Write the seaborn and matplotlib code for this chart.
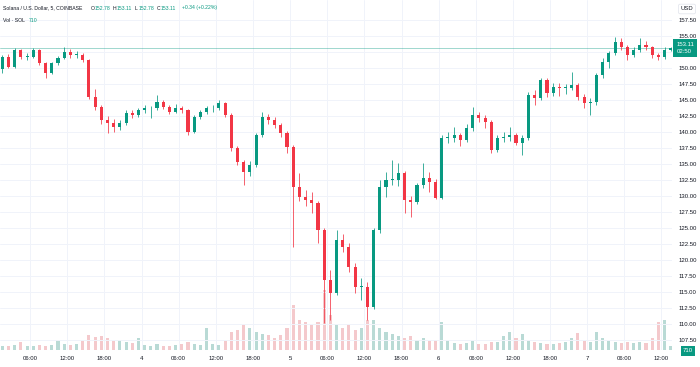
import numpy as np
import pandas as pd
import matplotlib
matplotlib.use("Agg")
import matplotlib.pyplot as plt
import matplotlib.transforms as mtransforms
import seaborn as sns

# ---------------- data (hourly candles, hours since day 3 00:00) ----------------
hours = list(range(1, 110))
closes = [151.8, 150.2, 152.8, 151.8, 151.8, 152.8, 150.8, 149.2, 150.8, 151.6,
          152.5, 152.0, 152.0, 151.2, 145.5, 143.9, 141.9, 141.4, 140.8, 141.4,
          143.0, 142.7, 143.4, 143.7, 143.7, 144.7, 143.9, 143.1, 143.7, 143.4,
          140.0, 142.3, 143.1, 143.7, 143.7, 144.5, 142.7, 137.5, 135.3, 133.8,
          134.8, 139.5, 142.3, 141.9, 141.1, 139.8, 137.7, 131.4, 129.8, 129.4,
          128.9, 124.7, 116.9, 114.8, 123.1, 122.0, 118.9, 115.8, 115.8, 112.7,
          124.7, 131.4, 132.5, 132.5, 133.6, 129.4, 129.1, 131.7, 132.8, 132.2,
          129.7, 139.1, 139.1, 139.5, 138.75, 140.6, 142.7, 142.2, 141.6, 137.2,
          139.1, 139.2, 139.5, 138.3, 139.1, 145.8, 145.3, 148.1, 146.1, 147.0,
          146.9, 146.9, 147.3, 145.5, 144.5, 144.7, 148.9, 151.0, 152.3, 154.1,
          153.3, 152.0, 152.8, 153.6, 153.3, 152.0, 151.7, 152.8, 153.11]
first_open = 149.8
highs = [152.0, 152.2, 153.2, 153.0, 152.4, 153.2, 153.0, 151.0, 151.0, 151.9,
         153.3, 152.9, 152.6, 152.4, 151.4, 146.8, 144.3, 142.5, 142.0, 141.9,
         143.4, 143.4, 143.8, 144.2, 144.1, 145.8, 145.0, 144.2, 144.4, 144.0,
         143.6, 142.6, 143.4, 144.1, 144.3, 145.0, 144.7, 142.9, 137.8, 135.6,
         135.5, 139.9, 143.1, 142.8, 142.3, 141.4, 140.1, 137.9, 133.6, 131.0,
         130.6, 129.2, 125.0, 118.5, 124.7, 124.0, 122.6, 119.5, 117.2, 116.5,
         125.0, 132.5, 133.8, 135.6, 135.2, 133.9, 130.0, 132.0, 135.2, 133.8,
         132.6, 139.5, 140.0, 140.8, 139.9, 141.2, 143.9, 143.2, 142.6, 141.9,
         139.5, 140.0, 140.8, 139.8, 139.5, 146.2, 146.6, 148.5, 148.4, 147.7,
         147.6, 147.5, 149.4, 147.6, 145.9, 145.3, 149.2, 151.5, 152.7, 154.8,
         154.7, 153.6, 153.3, 154.7, 154.2, 153.5, 152.4, 153.3, 153.3]
lows = [149.3, 150.0, 150.0, 151.4, 151.3, 151.6, 150.5, 148.4, 149.0, 150.5,
        151.4, 151.6, 151.5, 150.9, 145.2, 143.4, 141.2, 139.8, 140.0, 140.3,
        141.1, 142.2, 142.4, 143.0, 142.2, 143.5, 143.6, 142.8, 142.9, 143.0,
        139.5, 139.8, 142.0, 142.8, 143.2, 143.5, 142.4, 137.0, 134.8, 131.7,
        133.2, 134.5, 139.2, 141.3, 140.7, 139.3, 136.8, 122.0, 129.2, 128.5,
        127.3, 122.7, 110.2, 110.6, 114.5, 121.2, 118.2, 114.8, 113.8, 110.6,
        112.3, 124.2, 129.8, 131.8, 131.6, 127.3, 126.7, 128.8, 131.3, 130.6,
        129.5, 129.5, 138.3, 138.4, 137.8, 138.5, 140.2, 141.6, 140.6, 136.7,
        136.9, 138.5, 138.6, 137.9, 136.4, 138.8, 144.2, 145.0, 145.4, 145.6,
        145.7, 146.0, 146.5, 145.0, 143.8, 142.7, 144.3, 148.5, 150.0, 152.0,
        152.8, 151.2, 151.7, 152.5, 152.8, 151.6, 151.2, 151.4, 152.6]
volumes = [4, 4, 5, 8, 4, 4, 5, 4, 5, 10,
           6, 5, 6, 9, 15, 13, 14, 12, 9, 10,
           8, 7, 12, 5, 4, 6, 4, 4, 5, 6,
           8, 6, 5, 22, 6, 5, 9, 18, 20, 25,
           22, 18, 16, 15, 12, 15, 22, 45, 30, 28,
           25, 28, 60, 35, 25, 22, 25, 20, 22, 30,
           30, 22, 18, 16, 14, 12, 14, 10, 12, 9,
           10, 28, 10, 7, 6, 7, 9, 6, 6, 8,
           8, 14, 18, 12, 16, 10, 8, 7, 6, 6,
           7, 8, 12, 17, 9, 8, 18, 12, 9, 8,
           7, 8, 7, 8, 7, 12, 28, 30, 4]

tick_hours = [6, 12, 18, 24, 30, 36, 42, 48, 54, 60, 66, 72, 78, 84, 90, 96, 102, 108]
tick_labels = ["06:00", "12:00", "18:00", "4", "06:00", "12:00", "18:00", "5",
               "06:00", "12:00", "18:00", "6", "06:00", "12:00", "18:00", "7",
               "06:00", "12:00"]
price_ticks = [107.5, 110.0, 112.5, 115.0, 117.5, 120.0, 122.5, 125.0, 127.5, 130.0,
               132.5, 135.0, 137.5, 140.0, 142.5, 145.0, 147.5, 150.0, 152.5, 155.0, 157.5]
last_price = 153.11

# ---------------- build frame ----------------
opens = [first_open] + closes[:-1]
df = pd.DataFrame({"hour": hours, "open": opens, "high": highs, "low": lows,
                   "close": closes, "volume": volumes})
df["t"] = df["hour"] + 0.5
df["dir"] = np.where(df["close"] >= df["open"], "up", "down")

UP = "#089981"
DOWN = "#f23645"
TXT = "#131722"
FONT = ["Liberation Sans", "DejaVu Sans"]

sns.set_theme(style="white")
plt.rcParams["font.family"] = FONT

fig = plt.figure(figsize=(7.0, 3.67), dpi=100)
ax = fig.add_axes([0.0, 17 / 367, 672 / 700, 350 / 367])
axv = ax.twinx()
axv.set_zorder(0)
ax.set_zorder(1)
ax.patch.set_visible(False)

# volume via seaborn
sns.barplot(data=df, x="t", y="volume", hue="dir", native_scale=True, dodge=False,
            palette={"up": UP, "down": DOWN}, alpha=0.3, width=0.5, errorbar=None,
            legend=False, ax=axv, linewidth=0)
axv.set_ylim(0, 350)
axv.set_yticks([])
axv.set_ylabel("")
axv.set_xlabel("")

# candles
cols = df["dir"].map({"up": UP, "down": DOWN})
ax.vlines(df["t"], df["low"], df["high"], colors=cols, lw=0.55, zorder=2)
body_lo = np.minimum(df["open"], df["close"])
body_h = np.maximum(np.abs(df["close"] - df["open"]), 0.12)
ax.bar(df["t"], body_h, bottom=body_lo, width=0.5, color=cols, linewidth=0, zorder=3)

ax.set_xlim(1.13, 109.7)
axv.set_xlim(1.13, 109.7)
ax.set_ylim(105.94, 160.63)

# grid
for h in tick_hours:
    ax.axvline(h, color="#f0f3fa", lw=0.7, zorder=0)
for p in price_ticks:
    ax.axhline(p, color="#f0f3fa", lw=0.7, zorder=0)

# current price line
ax.axhline(last_price, color=UP, lw=0.6, alpha=0.45, zorder=1)

for a in (ax, axv):
    for s in a.spines.values():
        s.set_visible(False)

ax.set_xticks(tick_hours)
ax.set_xticklabels(tick_labels)
ax.tick_params(axis="x", length=0, pad=4, labelsize=4.3, colors=TXT)
ax.yaxis.tick_right()
ax.set_yticks(price_ticks)
# the 152.50 label sits under the last-price box in the reference
ax.set_yticklabels(["" if abs(p - 152.5) < 1e-9 else f"{p:.2f}" for p in price_ticks])
ax.tick_params(axis="y", length=0, pad=5, labelsize=4.3, colors=TXT)
ax.set_xlabel("")
ax.set_ylabel("")

# price label box
tr = mtransforms.blended_transform_factory(ax.transAxes, ax.transData)
ax.text(1.0065, last_price, "153.11\n02:50", transform=tr, color="white", fontsize=4.3,
        va="center", ha="left", linespacing=1.35, zorder=10,
        bbox=dict(boxstyle="square,pad=0.5", fc=UP, ec="none"))

# volume label box
fig.text(688 / 700, 1 - 351 / 367, "710", color="white", fontsize=4.3, ha="center", va="center",
         bbox=dict(boxstyle="square,pad=0.35", fc=UP, ec="none"))
# USD box
fig.text(687 / 700, 1 - 9 / 367, "USD", color=TXT, fontsize=4.2, ha="center", va="center",
         bbox=dict(boxstyle="round,pad=0.4,rounding_size=0.3", fc="white", ec="#e0e3eb", lw=0.5))

# header legend
y1 = 1 - 8 / 367
y2 = 1 - 21 / 367
fs = 3.7
fig.text(3 / 700, y1, "Solana / U.S. Dollar, 5, COINBASE", color=TXT, fontsize=fs, va="center")
parts = [(91, "O", "152.78"), (113, "H", "153.11"), (135, "L", "152.78"), (157, "C", "153.11")]
for xp, lab, val in parts:
    fig.text(xp / 700, y1, lab, color=TXT, fontsize=fs, va="center")
    fig.text((xp + 4) / 700, y1, val, color=UP, fontsize=fs, va="center")
fig.text(182 / 700, y1, "+0.34 (+0.22%)", color=UP, fontsize=fs, va="center")
fig.text(3 / 700, y2, "Vol · SOL", color=TXT, fontsize=fs, va="center")
fig.text(29 / 700, y2, "710", color=UP, fontsize=fs, va="center")

fig.savefig("out.png", dpi=100, facecolor="white")
